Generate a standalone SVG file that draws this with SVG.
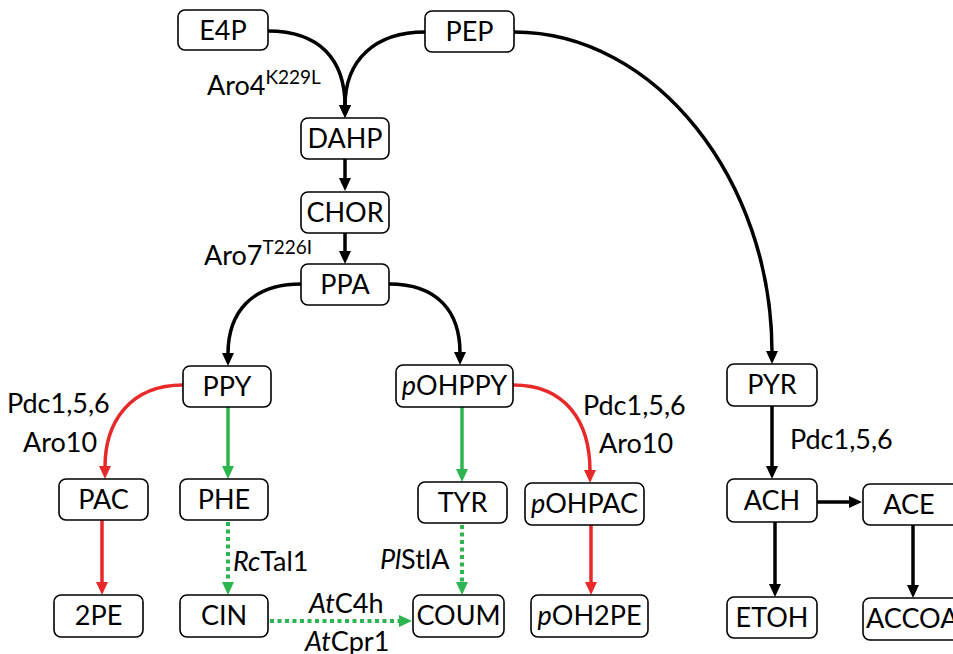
<svg xmlns="http://www.w3.org/2000/svg" width="953" height="654" viewBox="0 0 953 654">
<style>
.box{fill:#fff;stroke:#000;stroke-width:1.6}
.t{font-family:Lato,"Liberation Sans",sans-serif;font-size:27px;fill:#000;text-anchor:middle}
.l{font-family:Lato,"Liberation Sans",sans-serif;font-size:27px;fill:#000}
.sup{font-size:19px}
.k{fill:none;stroke:#000;stroke-width:3.5}
.r{fill:none;stroke:#e8292a;stroke-width:3.5}
.g{fill:none;stroke:#2db550;stroke-width:3.5}
.gd{fill:none;stroke:#2db550;stroke-width:4;stroke-dasharray:4 3.5}
</style>
<defs>
<marker id="ak" markerUnits="userSpaceOnUse" markerWidth="13" markerHeight="12" refX="1" refY="6" orient="auto"><path d="M0,0 L13,6 L0,12 z" fill="#000"/></marker>
<marker id="ar" markerUnits="userSpaceOnUse" markerWidth="13" markerHeight="12" refX="1" refY="6" orient="auto"><path d="M0,0 L13,6 L0,12 z" fill="#e8292a"/></marker>
<marker id="ag" markerUnits="userSpaceOnUse" markerWidth="13" markerHeight="12" refX="1" refY="6" orient="auto"><path d="M0,0 L13,6 L0,12 z" fill="#2db550"/></marker>
</defs>
<rect width="953" height="654" fill="#fff"/>
<g id="connectors">
<path class="k" d="M268,31 C320,31 345,60 345,106" marker-end="url(#ak)"/>
<path class="k" d="M425,32 C375,32 345,60 345,106" marker-end="url(#ak)"/>
<path class="k" d="M514,32 C656,32 772,181 772,352" marker-end="url(#ak)"/>
<path class="k" d="M345,159 L345,179" marker-end="url(#ak)"/>
<path class="k" d="M345,233 L345,252" marker-end="url(#ak)"/>
<path class="k" d="M301,284 C252,284 228,312 228,354" marker-end="url(#ak)"/>
<path class="k" d="M389,284 C438,284 460,312 460,353" marker-end="url(#ak)"/>
<path class="r" d="M183,385 C130,385 105,422 105,467" marker-end="url(#ar)"/>
<path class="r" d="M102,520 L102,583" marker-end="url(#ar)"/>
<path class="g" d="M228,407 L228,467" marker-end="url(#ag)"/>
<path class="gd" d="M228,522 L228,583" marker-end="url(#ag)"/>
<path class="gd" d="M270,621 L400,621" marker-end="url(#ag)"/>
<path class="g" d="M462,407 L462,470" marker-end="url(#ag)"/>
<path class="gd" d="M462,525 L462,583" marker-end="url(#ag)"/>
<path class="r" d="M513,385 C566,385 590,422 590,471" marker-end="url(#ar)"/>
<path class="r" d="M591,525 L591,583" marker-end="url(#ar)"/>
<path class="k" d="M772,406 L772,467" marker-end="url(#ak)"/>
<path class="k" d="M817,502 L850,502" marker-end="url(#ak)"/>
<path class="k" d="M775,522 L775,585" marker-end="url(#ak)"/>
<path class="k" d="M913,525 L913,586" marker-end="url(#ak)"/>
</g>
<g id="E4P"><rect class="box" x="178" y="10" width="90" height="40" rx="7"/><text class="t" x="223" y="40">E4P</text></g>
<g id="PEP"><rect class="box" x="425" y="11" width="89" height="41" rx="7"/><text class="t" x="469.5" y="41">PEP</text></g>
<g id="DAHP"><rect class="box" x="301" y="118" width="88" height="41" rx="7"/><text class="t" x="345" y="148">DAHP</text></g>
<g id="CHOR"><rect class="box" x="301" y="192" width="88" height="41" rx="7"/><text class="t" x="345" y="222">CHOR</text></g>
<g id="PPA"><rect class="box" x="301" y="264" width="88" height="41" rx="7"/><text class="t" x="345" y="294">PPA</text></g>
<g id="PPY"><rect class="box" x="183" y="366" width="88" height="41" rx="7"/><text class="t" x="227" y="396">PPY</text></g>
<g id="pOHPPY"><rect class="box" x="396" y="365" width="117" height="42" rx="7"/><text class="t" x="454.5" y="395"><tspan font-style="italic">p</tspan>OHPPY</text></g>
<g id="PYR"><rect class="box" x="727" y="364" width="90" height="42" rx="7"/><text class="t" x="772" y="394">PYR</text></g>
<g id="PAC"><rect class="box" x="59" y="479" width="89" height="41" rx="7"/><text class="t" x="103.5" y="509">PAC</text></g>
<g id="PHE"><rect class="box" x="180" y="479" width="88" height="41" rx="7"/><text class="t" x="224" y="509">PHE</text></g>
<g id="TYR"><rect class="box" x="418" y="482" width="89" height="41" rx="7"/><text class="t" x="462.5" y="512">TYR</text></g>
<g id="pOHPAC"><rect class="box" x="525" y="483" width="119" height="42" rx="7"/><text class="t" x="584.5" y="513"><tspan font-style="italic">p</tspan>OHPAC</text></g>
<g id="ACH"><rect class="box" x="727" y="479" width="90" height="43" rx="7"/><text class="t" x="772" y="510">ACH</text></g>
<g id="ACE"><rect class="box" x="863" y="484" width="100" height="41" rx="7"/><text class="t" x="909" y="514">ACE</text></g>
<g id="2PE"><rect class="box" x="54" y="595" width="89" height="42" rx="7"/><text class="t" x="98.5" y="625">2PE</text></g>
<g id="CIN"><rect class="box" x="180" y="595" width="88" height="42" rx="7"/><text class="t" x="224" y="625">CIN</text></g>
<g id="COUM"><rect class="box" x="413" y="595" width="91" height="42" rx="7"/><text class="t" x="458.5" y="625">COUM</text></g>
<g id="pOH2PE"><rect class="box" x="531" y="595" width="117" height="42" rx="7"/><text class="t" x="589.5" y="625"><tspan font-style="italic">p</tspan>OH2PE</text></g>
<g id="ETOH"><rect class="box" x="727" y="597" width="90" height="41" rx="7"/><text class="t" x="772" y="627">ETOH</text></g>
<g id="ACCOA"><rect class="box" x="863" y="598" width="100" height="42" rx="7"/><text class="l" x="866" y="628">ACCOA</text></g>
<g id="labels">
<text class="l" x="207" y="95">Aro4<tspan class="sup" dy="-11">K229L</tspan></text>
<text class="l" x="204" y="265">Aro7<tspan class="sup" dy="-11">T226I</tspan></text>
<text class="l" x="7" y="413">Pdc1,5,6</text>
<text class="l" x="23" y="452">Aro10</text>
<text class="l" x="583" y="415">Pdc1,5,6</text>
<text class="l" x="599" y="453">Aro10</text>
<text class="l" x="790" y="449">Pdc1,5,6</text>
<text class="l" x="233" y="571"><tspan font-style="italic">Rc</tspan>Tal1</text>
<text class="l" x="380" y="569"><tspan font-style="italic">Pl</tspan>StlA</text>
<text class="l" x="309" y="613"><tspan font-style="italic">At</tspan>C4h</text>
<text class="l" x="305" y="651"><tspan font-style="italic">At</tspan>Cpr1</text>
</g>
</svg>
